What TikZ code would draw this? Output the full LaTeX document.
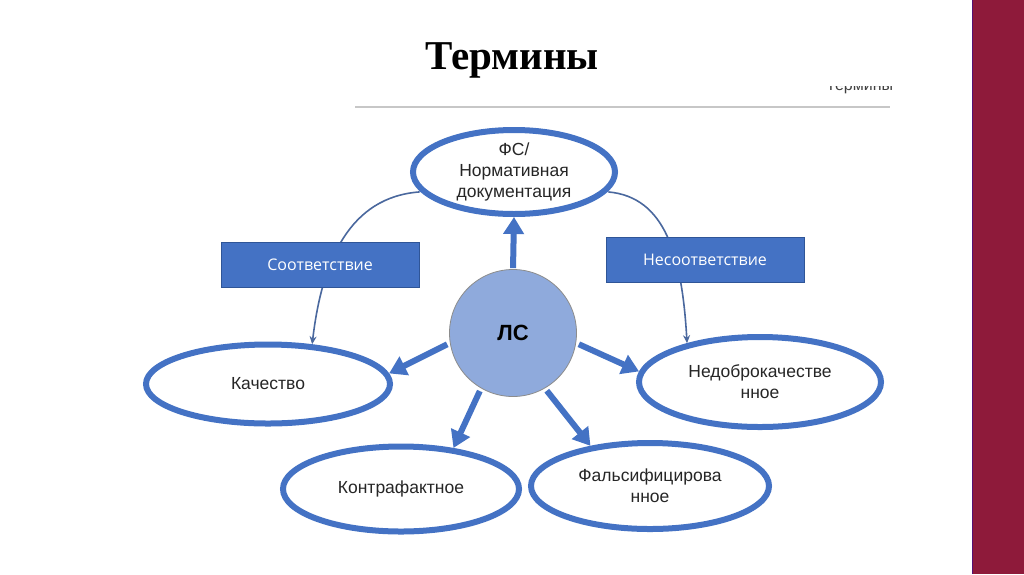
\documentclass[tikz,border=0pt]{standalone}
\usepackage{fontspec}
\setmainfont{Liberation Serif}
\newfontfamily\arialfont{Liberation Sans}
\newfontfamily\boxfont{Open Sans}
\usetikzlibrary{shapes.geometric,arrows.meta}
\definecolor{ppblue}{HTML}{4472C4}
\definecolor{ppedge}{HTML}{2F5597}
\definecolor{pplight}{HTML}{8FAADC}
\definecolor{ppthin}{HTML}{4A689E}
\definecolor{ppred}{HTML}{8E1A3A}

\begin{document}
\begin{tikzpicture}[x=1pt,y=-1pt,
    term/.style={ellipse, draw=ppblue, line width=6pt, fill=white, inner sep=0pt,
        font=\arialfont\fontsize{17.5}{21}\selectfont, text=black!85, align=center},
    tagbox/.style={rectangle, draw=ppedge, line width=1pt, fill=ppblue, text=white,
        font=\boxfont\fontsize{16}{20}\selectfont, minimum width=198pt, minimum height=45pt},
    bigarrow/.style={ppblue, line width=6pt, -{Triangle[length=17pt,width=20pt]}},
    thinarrow/.style={ppthin, line width=1.6pt, -{Stealth[length=8pt,width=7pt]}}]
    \useasboundingbox (0,0) rectangle (1024,574);
    \fill[white] (0,0) rectangle (1024,574);
    \fill[ppred] (972,0) rectangle (1024,574);
    \draw[black!20!blue!40!ppred, line width=1pt] (972.5,0) -- (972.5,574);

    \node[font=\bfseries\fontsize{41}{46}\selectfont] (title) at (512,60) {Термины};
    \draw[black!22, line width=1.5pt] (355,107) -- (890,107);
    \begin{scope}
        \clip (800,86.5) rectangle (900,96);
        \node[anchor=base west, inner sep=0pt, text=black!75,
            font=\arialfont\fontsize{16}{18}\selectfont] (cut) at (826,90) {Термины};
    \end{scope}

    % ellipses
    \node[term, minimum width=202pt, minimum height=84pt] (fs) at (514,172)
        {ФС/\\Нормативная\\документация};
    \node[term, minimum width=244pt, minimum height=79pt] (kach) at (268,384) {Качество};
    \node[term, minimum width=242pt, minimum height=90pt] (nd) at (760,382)
        {Недоброкачестве\\нное};
    \node[term, minimum width=236pt, minimum height=85pt] (kontra) at (401,489) {Контрафактное};
    \node[term, minimum width=238pt, minimum height=86pt] (fals) at (650,486)
        {Фальсифицирова\\нное};

    \node[circle, draw=black!45, line width=0.8pt, fill=pplight, minimum size=127pt,
        font=\arialfont\bfseries\fontsize{22}{24}\selectfont] (ls) at (513,333) {ЛС};

    % curved connectors, boxes cover them
    \draw[thinarrow, shorten <=1pt] (fs.192) .. controls (350,197) and (322,260) .. (kach.42);
    \draw[thinarrow, shorten <=1pt] (fs.-12) .. controls (665,197) and (682,255) .. (nd.152);

    \node[tagbox] (sootv) at (320,265) {Соответствие};
    \node[tagbox] (nesootv) at (705,260) {Несоответствие};

    % arrows from the centre
    \draw[bigarrow, shorten <=1pt] (ls.north) -- (fs.south);
    \draw[bigarrow, shorten <=3pt] (ls.189) -- (kach.5);
    \draw[bigarrow, shorten <=3pt] (ls.-9) -- (nd.175);
    \draw[bigarrow, shorten <=3pt] (ls.240) -- (kontra.38);
    \draw[bigarrow, shorten <=3pt] (ls.300) -- (fals.146);
\end{tikzpicture}
\end{document}
